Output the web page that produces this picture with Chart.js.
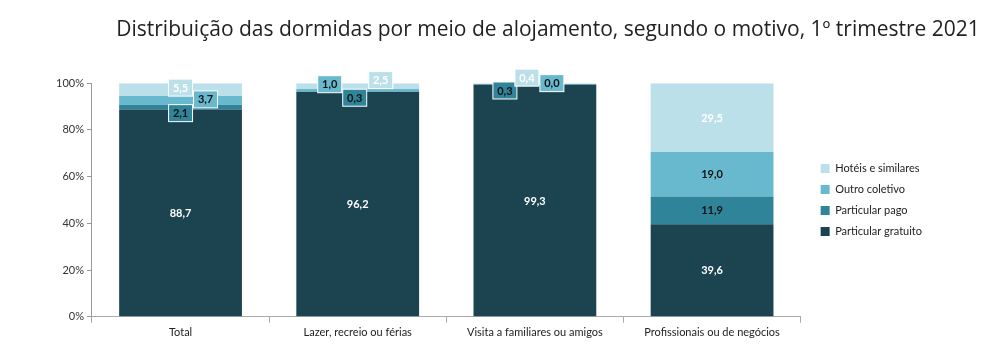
<!DOCTYPE html>
<html>
<head>
<meta charset="utf-8">
<script src="https://cdn.jsdelivr.net/npm/chart.js@4/dist/chart.umd.min.js"></script>
<style>
  body { margin: 0; background: #fff; }
  #wrap { width: 1000px; height: 362px; }
</style>
</head>
<body>
<div id="wrap"><canvas id="myChart"></canvas></div>
<script>
// categories
const motivos = [
  "Total",
  "Lazer, recreio ou férias",
  "Visita a familiares ou amigos",
  "Profissionais ou de negócios",
];

// series values (%)
const particularGratuito = [88.7, 96.2, 99.3, 39.6];
const particularPago = [2.1, 0.3, 0.3, 11.9];
const outroColetivo = [3.7, 1.0, 0.0, 19.0];
const hoteisSimilares = [5.5, 2.5, 0.4, 29.5];

// y tick labels
const yTicks = [0, 20, 40, 60, 80, 100];

const titulo =
  "Distribuição das dormidas por meio de alojamento, segundo o motivo, 1º trimestre 2021";

const fontFam = "Lato, 'Open Sans', sans-serif";

//small segments get a boxed label moved a bit aside: "dataset,index": [dx, dy]
const boxedLabels = {
  "3,0": [0, -2],
  "2,0": [25, -1],
  "1,0": [0, 6],
  "2,1": [-28, -6],
  "1,1": [-3, 6],
  "3,1": [23, -6],
  "1,2": [-30, 6],
  "3,2": [-8, -6],
  "2,2": [17, -1],
};

const segLabels = {
  id: "segLabels",
  afterDatasetsDraw(chart) {
    const ctx = chart.ctx;
    ctx.save();
    ctx.font = "bold 11px " + fontFam;
    ctx.textAlign = "center";
    ctx.textBaseline = "middle";
    chart.data.datasets.forEach((ds, i) => {
      let meta = chart.getDatasetMeta(i);
      meta.data.forEach((bar, j) => {
        let txt = ds.data[j].toFixed(1).replace(".", ",");
        let x = bar.x;
        let y = (bar.y + bar.base) / 2;
        let off = boxedLabels[i + "," + j];
        if (off) {
          x += off[0];
          y += off[1];
          ctx.fillStyle = ds.backgroundColor;
          ctx.strokeStyle = "#ffffff";
          ctx.lineWidth = 1;
          ctx.fillRect(x - 12, y - 8.5, 24, 17);
          ctx.strokeRect(x - 12, y - 8.5, 24, 17);
        }
        ctx.fillStyle = ds.labelColor;
        ctx.fillText(txt, x, y + 0.5);
      });
    });
    ctx.restore();
  },
};

// put the title where the original has it (right of centre)
const titlePlace = {
  id: "titlePlace",
  afterLayout(chart) {
    let t = chart.titleBlock;
    t.left = 116;
    t.right = 980;
    t.width = t.right - t.left;
  },
};

const ctx = document.getElementById("myChart");

new Chart(ctx, {
  type: "bar",
  data: {
    labels: motivos,
    datasets: [
      {
        label: "Particular gratuito",
        data: particularGratuito,
        backgroundColor: "#1c4350",
        labelColor: "#ffffff",
      },
      {
        label: "Particular pago",
        data: particularPago,
        backgroundColor: "#2f8499",
        labelColor: "#111111",
      },
      {
        label: "Outro coletivo",
        data: outroColetivo,
        backgroundColor: "#69b9ce",
        labelColor: "#111111",
      },
      {
        label: "Hotéis e similares",
        data: hoteisSimilares,
        backgroundColor: "#bce0ea",
        labelColor: "#ffffff",
      },
    ],
  },
  plugins: [segLabels, titlePlace],
  options: {
    responsive: true,
    maintainAspectRatio: false,
    animation: false,
    datasets: {
      bar: {
        barPercentage: 0.693,
        categoryPercentage: 1,
        borderWidth: 0,
      },
    },
    layout: {
      padding: { left: 53, right: 68, bottom: 20, top: 0 },
    },
    plugins: {
      tooltip: { enabled: false },
      title: {
        display: true,
        text: titulo,
        color: "#222222",
        font: { family: "'Open Sans', sans-serif", size: 21, weight: "normal" },
        padding: { top: 17, bottom: 41 },
      },
      legend: {
        position: "right",
        fullSize: false,
        reverse: true,
        labels: {
          boxWidth: 9,
          boxHeight: 9,
          padding: 10,
          color: "#222222",
          font: { family: fontFam, size: 11 },
        },
      },
    },
    scales: {
      x: {
        stacked: true,
        grid: {
          offset: true,
          drawOnChartArea: false,
          drawTicks: true,
          tickLength: 6,
          color: "#aaaaaa",
        },
        border: { color: "#aaaaaa" },
        ticks: {
          color: "#222222",
          font: { family: fontFam, size: 11 },
          padding: 3,
        },
      },
      y: {
        stacked: true,
        min: 0,
        max: 100,
        afterBuildTicks: (scale) => {
          scale.ticks = yTicks.map((v) => ({ value: v }));
        },
        grid: {
          drawOnChartArea: false,
          drawTicks: true,
          tickLength: 5,
          color: "#999999",
        },
        border: { color: "#999999" },
        ticks: {
          color: "#333333",
          font: { family: fontFam, size: 11 },
          padding: 3,
          callback: (v) => v + "%",
        },
      },
      //empty strip so the legend sits a bit away from the bars
      gap: {
        position: "right",
        display: true,
        grid: { display: false },
        border: { display: false },
        ticks: { display: false },
        afterFit: (scale) => {
          scale.width = 10;
        },
      },
    },
  },
});
</script>
</body>
</html>
